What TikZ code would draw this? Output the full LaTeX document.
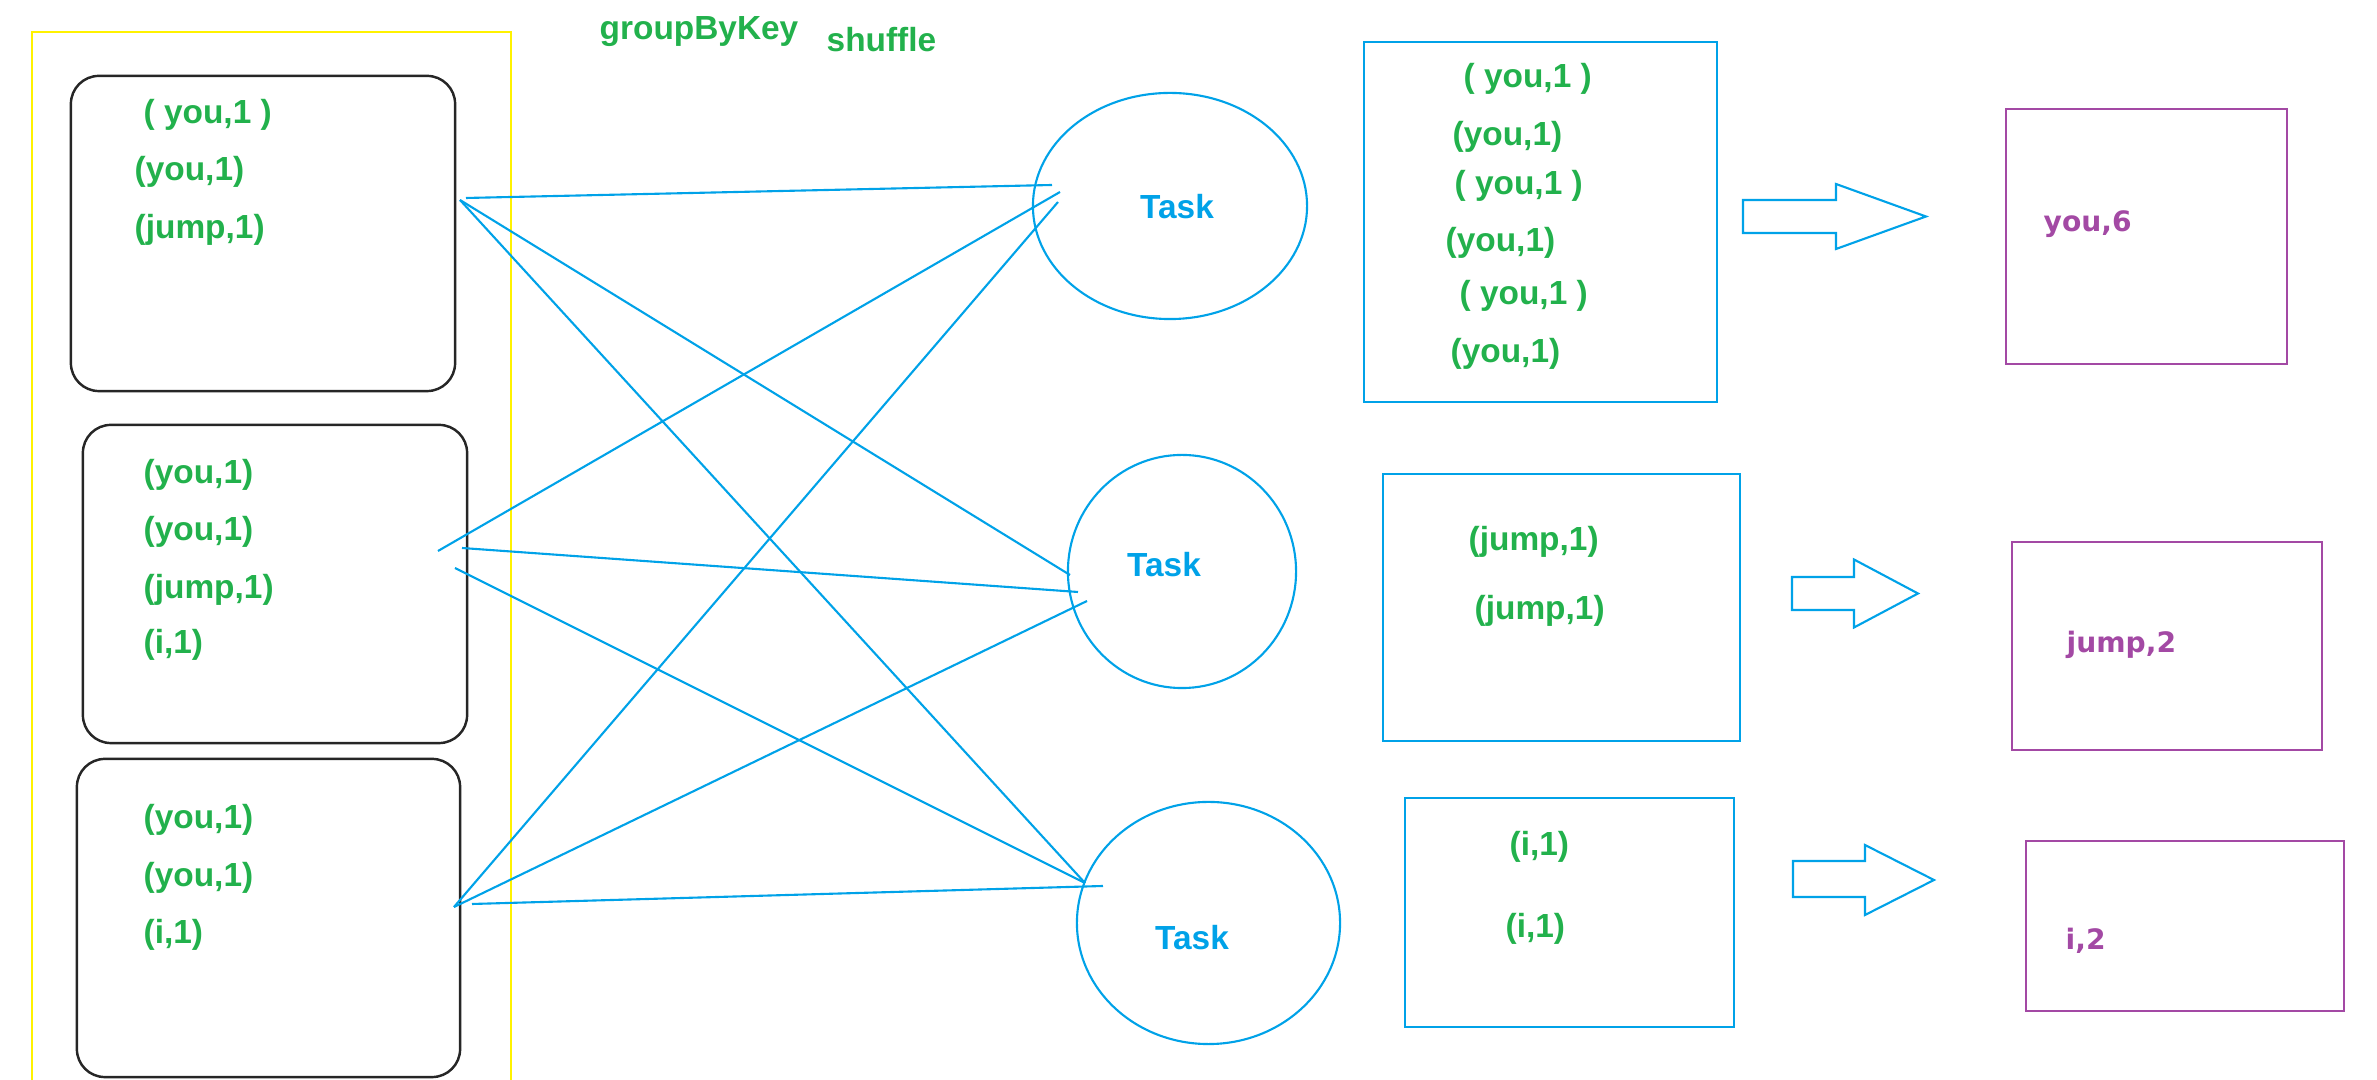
\documentclass[tikz,border=0pt]{standalone}
\usepackage{fontspec}
\setmainfont{Liberation Sans}
\newfontfamily\widefont{DejaVu Sans}
\usetikzlibrary{shapes.geometric}
\definecolor{keygreen}{HTML}{22B14C}
\definecolor{taskblue}{HTML}{00A2E8}
\definecolor{sumpurple}{HTML}{A349A4}
\definecolor{rddyellow}{HTML}{FFF200}
\tikzset{
  pairbox/.style={draw=black!85,line width=0.7pt,rounded corners=2.8mm,inner sep=0pt},
  pairtext/.style={text=keygreen,font=\fontsize{9.5}{11}\selectfont\bfseries,inner sep=0pt,anchor=west},
  tasknode/.style={ellipse,draw=taskblue,line width=0.6pt,inner sep=0pt},
  tasktext/.style={text=taskblue,font=\fontsize{9.5}{11}\selectfont\bfseries,inner sep=0pt},
  groupbox/.style={draw=taskblue,line width=0.7pt,inner sep=0pt},
  resultbox/.style={draw=sumpurple,line width=0.7pt,inner sep=0pt},
  resulttext/.style={text=sumpurple,font=\widefont\fontsize{8}{10}\selectfont\bfseries,inner sep=0pt,anchor=base west},
  shuffleline/.style={draw=taskblue,line width=0.6pt},
  flowarrow/.style={draw=taskblue,line width=0.6pt,line join=miter}
}

\begin{document}
\begin{tikzpicture}[x=0.01cm,y=-0.01cm]
\useasboundingbox (0,0) rectangle (2377,1080);
% rdd frame
\draw[rddyellow,line width=0.6pt] (32,1080) -- (32,32) -- (511,32) -- (511,1080);
\node[pairtext,anchor=base west] (groupbykey) at (599,40) {groupByKey};
\node[pairtext,anchor=base west] (shuffle) at (826,52) {shuffle};

% partitions
\node[pairbox,minimum width=38.4mm,minimum height=31.5mm] (split1) at (263,233.5) {};
\node[pairbox,minimum width=38.4mm,minimum height=31.8mm] (split2) at (275,584) {};
\node[pairbox,minimum width=38.3mm,minimum height=31.8mm] (split3) at (268.5,918) {};
\node[pairtext] (p11) at (143,115) {( you,1 )};
\node[pairtext] (p12) at (134,172) {(you,1)};
\node[pairtext] (p13) at (134,230) {(jump,1)};
\node[pairtext] (p21) at (143,475) {(you,1)};
\node[pairtext] (p22) at (143,532) {(you,1)};
\node[pairtext] (p23) at (143,590) {(jump,1)};
\node[pairtext] (p24) at (143,645) {(i,1)};
\node[pairtext] (p31) at (143,820) {(you,1)};
\node[pairtext] (p32) at (143,878) {(you,1)};
\node[pairtext] (p33) at (143,935) {(i,1)};

% tasks
\node[tasknode,minimum width=27.4mm,minimum height=22.6mm] (task1) at (1170,206) {};
\node[tasknode,minimum width=22.8mm,minimum height=23.3mm] (task2) at (1182,571.5) {};
\node[tasknode,minimum width=26.3mm,minimum height=24.2mm] (task3) at (1208.5,923) {};
\node[tasktext] (tasklabel1) at (1177,207) {Task};
\node[tasktext] (tasklabel2) at (1164,565) {Task};
\node[tasktext] (tasklabel3) at (1192,938) {Task};

% grouped pairs
\node[groupbox,minimum width=35.3mm,minimum height=36mm] (group1) at (1540.5,222) {};
\node[groupbox,minimum width=35.7mm,minimum height=26.7mm] (group2) at (1561.5,607.5) {};
\node[groupbox,minimum width=32.9mm,minimum height=22.9mm] (group3) at (1569.5,912.5) {};
\node[pairtext] (g11) at (1463,79) {( you,1 )};
\node[pairtext] (g12) at (1452,137) {(you,1)};
\node[pairtext] (g13) at (1454,186) {( you,1 )};
\node[pairtext] (g14) at (1445,243) {(you,1)};
\node[pairtext] (g15) at (1459,296) {( you,1 )};
\node[pairtext] (g16) at (1450,354) {(you,1)};
\node[pairtext] (g21) at (1468,542) {(jump,1)};
\node[pairtext] (g22) at (1474,611) {(jump,1)};
\node[pairtext] (g31) at (1509,847) {(i,1)};
\node[pairtext] (g32) at (1505,929) {(i,1)};

% results
\node[resultbox,minimum width=28.1mm,minimum height=25.5mm] (result1) at (2146.5,236.5) {};
\node[resultbox,minimum width=31mm,minimum height=20.8mm] (result2) at (2167,646) {};
\node[resultbox,minimum width=31.8mm,minimum height=17mm] (result3) at (2185,926) {};
\node[resulttext] (sum1) at (2043,232) {you,6};
\node[resulttext] (sum2) at (2066,653) {jump,2};
\node[resulttext] (sum3) at (2065,950) {i,2};

% hollow arrows
\draw[flowarrow] (1743,200) -- (1836,200) -- (1836,184) -- (1926,216.5) -- (1836,249) -- (1836,233) -- (1743,233) -- cycle;
\draw[flowarrow] (1792,577) -- (1854,577) -- (1854,559.5) -- (1918,593.5) -- (1854,627.5) -- (1854,610) -- (1792,610) -- cycle;
\draw[flowarrow] (1793,861) -- (1865,861) -- (1865,845) -- (1934,880) -- (1865,915) -- (1865,897) -- (1793,897) -- cycle;

% shuffle lines
\coordinate (s1a) at (466,198);
\coordinate (s1b) at (460,200);
\coordinate (s2a) at (438,551);
\coordinate (s2b) at (462,548);
\coordinate (s2c) at (455,568);
\coordinate (s3a) at (454,907);
\coordinate (s3b) at (472,904);
\coordinate (t1a) at (1052,185);
\coordinate (t1b) at (1060,192);
\coordinate (t1c) at (1058,202);
\coordinate (t2a) at (1070,575);
\coordinate (t2b) at (1078,592);
\coordinate (t2c) at (1087,601);
\coordinate (t3a) at (1085,883);
\coordinate (t3b) at (1103,886);
\draw[shuffleline] (s1a) -- (t1a);
\draw[shuffleline] (s1b) -- (t2a);
\draw[shuffleline] (s1b) -- (t3a);
\draw[shuffleline] (s2a) -- (t1b);
\draw[shuffleline] (s2b) -- (t2b);
\draw[shuffleline] (s2c) -- (t3a);
\draw[shuffleline] (s3a) -- (t1c);
\draw[shuffleline] (s3a) -- (t2c);
\draw[shuffleline] (s3b) -- (t3b);
\end{tikzpicture}
\end{document}
